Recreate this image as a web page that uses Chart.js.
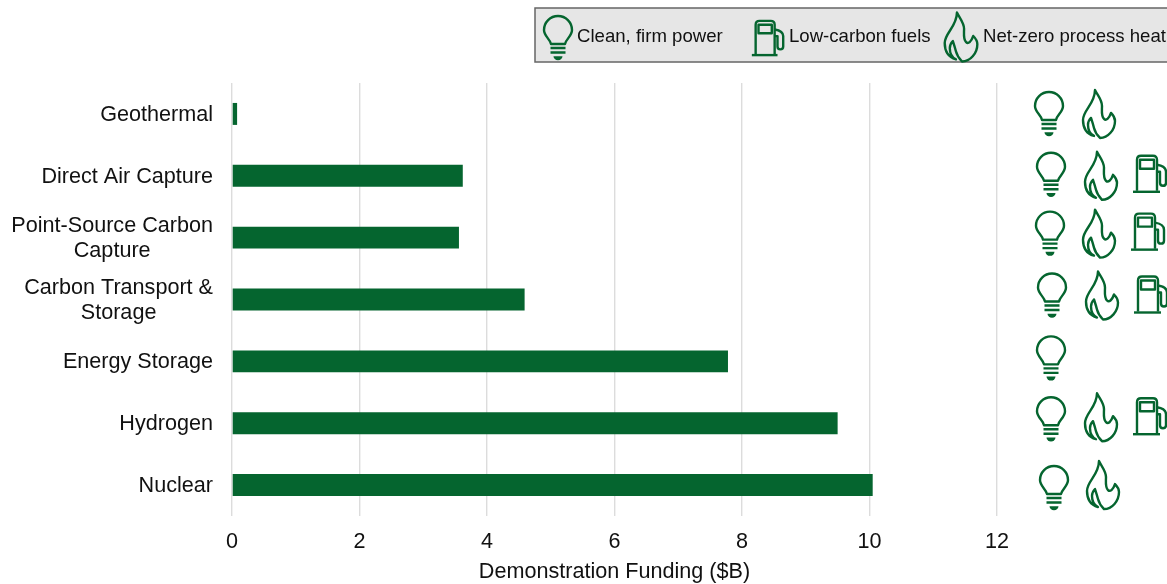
<!DOCTYPE html>
<html><head><meta charset="utf-8">
<script src="https://cdn.jsdelivr.net/npm/chart.js@4/dist/chart.umd.min.js"></script>
<style>html,body{margin:0;padding:0;background:#fff}#w{position:relative;width:1167px;height:584px}canvas{display:block}</style>
</head><body><div id="w"><canvas id="c" width="1167" height="584"></canvas></div>
<script>
const categories = ["Geothermal","Direct Air Capture",["Point-Source Carbon","Capture"],["Carbon Transport &","Storage"],"Energy Storage","Hydrogen","Nuclear"];
const funding = [0.08,3.62,3.56,4.59,7.78,9.5,10.05];
const xTicks = [0,2,4,6,8,10,12];
const xTitle = "Demonstration Funding ($B)";
const legendLabels = ["Clean, firm power","Low-carbon fuels","Net-zero process heat"];
const cleanFirm = [1,1,1,1,1,1,1];
const netZeroHeat = [1,1,1,1,0,1,1];
const lowCarbonFuels = [0,1,1,1,0,1,0];

const GREEN="#05652f", INK="#111";
const FONT='"Liberation Sans", Arial, sans-serif';
const icons={
 bulb:{s:["M-7 6C-8 1-14-2-14-8A14 14 0 1 1 14-8C14-2 8 1 7 6Z","M-7.5 10H7.5M-7.5 14.5H7.5"],f:"M-4.5 18.2H4.5A4.5 4 0 0 1-4.5 18.2Z"},
 flame:{s:["M-3-24C0-18 4-14 4-8C4-3 3 2 6 5C8 7 11 5 13-1C15 1 17 4 17 7C17 16 10 24 2 24C-2 20-3 18-4 14C-5 10-6 7-7 4C-9 6-10 8-10 11C-10 16-8 20-4 22C-11 20-15 14-15 6C-15-4-3-10-3-24Z"]},
 pump:{s:["M-13 17V-14Q-13-18-9-18H3Q7-18 7-14V17","M-17 18H10","M-10-14H4V-5H-10Z","M7-9C13-8 16-6 16-2V9C16 13 10 13 10 9V-2H7"]}
};
function drawIcon(ctx,name,x,y,k){
 const ic=icons[name];
 ctx.save();ctx.translate(x,y);ctx.scale(k,k);
 ctx.strokeStyle=GREEN;ctx.fillStyle=GREEN;ctx.lineWidth=2.4/k;ctx.lineJoin="round";
 ic.s.forEach(d=>ctx.stroke(new Path2D(d)));
 if(ic.f)ctx.fill(new Path2D(ic.f));
 ctx.restore();
}
class CenteredLabelScale extends Chart.CategoryScale{
 _computeLabelItems(a){
  const items=super._computeLabelItems(a);
  const ctx=this.ctx;
  items.forEach(it=>{
   let dx=0;
   if(Array.isArray(it.label)){
    ctx.save();ctx.font=it.font.string;
    dx=Math.max(...it.label.map(s=>ctx.measureText(s).width))/2;
    ctx.restore();
    it.options.textAlign="center";
   }
   it.options.translation=[it.options.translation[0]-dx,it.options.translation[1]+1];
  });
  return items;
 }
}
CenteredLabelScale.id="centeredLabel";
CenteredLabelScale.defaults=Chart.CategoryScale.defaults;
Chart.register(CenteredLabelScale);

// placement of the decorative icons, per row: absolute x, y offset from the category centre
const iconPlacement=[
 {bulb:[1049,0],flame:[1098,0]},
 {bulb:[1051,-1],flame:[1100,0],pump:[1150,-2]},
 {bulb:[1050,-4],flame:[1098,-4],pump:[1148,-6]},
 {bulb:[1052,-4],flame:[1101,-4],pump:[1151,-5]},
 {bulb:[1051,-3]},
 {bulb:[1051,-4],flame:[1100,-6],pump:[1150,-7]},
 {bulb:[1054,3],flame:[1102,0]}
];
const iconPlugin={id:"pathwayIcons",afterDraw(chart){
 const ctx=chart.ctx,y=chart.scales.y;
 categories.forEach((c,i)=>{
  const p=iconPlacement[i],py=y.getPixelForValue(i);
  if(cleanFirm[i])drawIcon(ctx,"bulb",p.bulb[0],py+p.bulb[1],1);
  if(netZeroHeat[i])drawIcon(ctx,"flame",p.flame[0],py+p.flame[1],1);
  if(lowCarbonFuels[i])drawIcon(ctx,"pump",p.pump[0],py+p.pump[1],1);
 });
 ctx.save();
 ctx.fillStyle="#e6e6e6";ctx.fillRect(535,8,640,54);
 ctx.strokeStyle="#666";ctx.lineWidth=1.5;ctx.strokeRect(535,8,640,54);
 drawIcon(ctx,"bulb",558,38,1);
 drawIcon(ctx,"pump",768,38,.95);
 drawIcon(ctx,"flame",960,37,1.02);
 ctx.fillStyle=INK;ctx.font="18.6px "+FONT;ctx.textBaseline="middle";ctx.textAlign="left";
 ctx.fillText(legendLabels[0],577,36.5);
 ctx.fillText(legendLabels[1],789,36.5);
 ctx.fillText(legendLabels[2],983,36.5);
 ctx.restore();
}};
new Chart(document.getElementById("c"),{
 type:"bar",
 data:{labels:categories,datasets:[{data:funding,backgroundColor:GREEN,borderWidth:0,barPercentage:0.355,categoryPercentage:1}]},
 plugins:[iconPlugin],
 options:{
  indexAxis:"y",responsive:false,animation:false,
  layout:{padding:{top:83,right:170,left:0,bottom:0}},
  plugins:{legend:{display:false},tooltip:{enabled:false}},
  scales:{
   x:{type:"linear",min:0,max:12,afterBuildTicks(s){s.ticks=xTicks.map(v=>({value:v}));},
    afterFit(s){s.height=68;},
    grid:{color:"#dcdcdc",lineWidth:1.4,drawTicks:false},border:{display:false},
    ticks:{color:INK,font:{family:FONT,size:21.6},padding:13,maxRotation:0},
    title:{display:true,text:xTitle,color:INK,font:{family:FONT,size:21.6},padding:{top:4,bottom:-1}}},
   y:{type:"centeredLabel",afterFit(s){s.width=232;},
    grid:{display:false,drawTicks:false},border:{display:false},
    ticks:{color:INK,font:{family:FONT,size:21.6,lineHeight:1.16},padding:19,autoSkip:false}}
  }
 }
});
</script></body></html>
